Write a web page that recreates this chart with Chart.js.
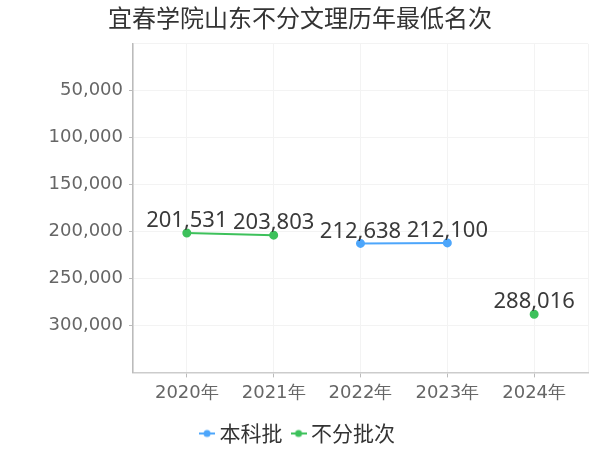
<!DOCTYPE html>
<html><head><meta charset="utf-8">
<script src="https://cdn.jsdelivr.net/npm/chart.js@4/dist/chart.umd.min.js"></script>
<style>html,body{margin:0;padding:0;background:#fff}#wrap{width:600px;height:450px}</style>
</head><body><div id="wrap"><canvas id="c" width="600" height="450"></canvas></div>
<script>
const categories = ['2020年','2021年','2022年','2023年','2024年'];
const benke = [null, null, 212638, 212100, null];
const bufen = [201531, 203803, null, null, 288016];
const yTicks = [0, 50000, 100000, 150000, 200000, 250000, 300000, 350000];
const seriesNames = ['本科批', '不分批次'];

const BLUE = '#4da6fb', GREEN = '#3dc15b';
function legendIcon(color){
  const c = document.createElement('canvas'); c.width = 16; c.height = 10;
  const g = c.getContext('2d');
  g.strokeStyle = color; g.lineWidth = 2; g.beginPath(); g.moveTo(0,5); g.lineTo(16,5); g.stroke();
  g.fillStyle = color; g.beginPath(); g.arc(8,5,3.5,0,Math.PI*2); g.fill();
  return c;
}
const toPts = arr => arr.map((v,i)=>({x:i,y:v}));
const fmt = v => v.toLocaleString('en-US');

const labelPlugin = {
  id:'labels',
  afterDatasetsDraw(chart){
    const ctx = chart.ctx;
    ctx.save();
    ctx.font = '22px "Noto Sans"';
    ctx.fillStyle = '#3a3a3a';
    ctx.textAlign = 'center'; ctx.textBaseline = 'middle';
    chart.data.datasets.forEach((ds,di)=>{
      chart.getDatasetMeta(di).data.forEach((el,i)=>{
        const v = ds.data[i].y;
        if (v == null) return;
        ctx.fillText(fmt(v), el.x, el.y - 12);
      });
    });
    ctx.restore();
  }
};

new Chart(document.getElementById('c'), {
  type:'line',
  data:{datasets:[
    {label:seriesNames[0], data:toPts(benke), borderColor:BLUE, backgroundColor:BLUE, pointRadius:3.5, pointHoverRadius:3.5, borderWidth:2, spanGaps:false},
    {label:seriesNames[1], data:toPts(bufen), borderColor:GREEN, backgroundColor:GREEN, pointRadius:3.5, pointHoverRadius:3.5, borderWidth:2, spanGaps:false}
  ]},
  options:{
    responsive:false, animation:false, devicePixelRatio:1,
    layout:{padding:{left:12,right:12,top:0,bottom:-4}},
    plugins:{
      title:{display:true, text:'宜春学院山东不分文理历年最低名次', color:'#333', font:{size:24, family:'"Noto Sans CJK SC"', weight:'normal'}, padding:{top:3,bottom:12}},
      legend:{position:'bottom', labels:{usePointStyle:true, pointStyleWidth:4, color:'#333', font:{size:21, family:'"Noto Sans CJK SC"'}, padding:14, generateLabels(chart){
        return chart.data.datasets.map((ds,i)=>({text:ds.label, fillStyle:ds.borderColor, strokeStyle:ds.borderColor, pointStyle:legendIcon(ds.borderColor), datasetIndex:i, fontColor:'#333', lineWidth:0}));
      }}},
      tooltip:{enabled:false}
    },
    scales:{
      x:{type:'linear', min:-0.62, max:4.62,
        afterBuildTicks(s){ s.ticks = [-0.62,0,1,2,3,4,4.62].map(v=>({value:v})); },
        ticks:{autoSkip:false, maxRotation:0, color:'#666', font:{size:18, family:'"DejaVu Sans"'}, padding:5,
          callback:(v)=> Number.isInteger(v) ? categories[v] : ''},
        grid:{color:'#f3f3f3', tickColor:(c)=> (c.tick && Number.isInteger(c.tick.value)) ? '#bbb' : 'rgba(0,0,0,0)', tickLength:5},
        border:{color:'#ccc', width:1.5}
      },
      y:{reverse:true, min:0, max:350000,
        afterBuildTicks(s){ s.ticks = yTicks.map(v=>({value:v})); },
        afterFit(s){ s.width = 121; },
        ticks:{color:'#666', font:{size:18, family:'"DejaVu Sans"'}, padding:6,
          callback:(v)=> (v===0||v===350000) ? '' : fmt(v)},
        grid:{color:'#f3f3f3', tickColor:(c)=> (c.tick && (c.tick.value===0||c.tick.value===350000)) ? 'rgba(0,0,0,0)' : '#bbb', tickLength:4},
        border:{color:'#bbb', width:1.5}
      }
    }
  },
  plugins:[labelPlugin]
});
</script></body></html>
